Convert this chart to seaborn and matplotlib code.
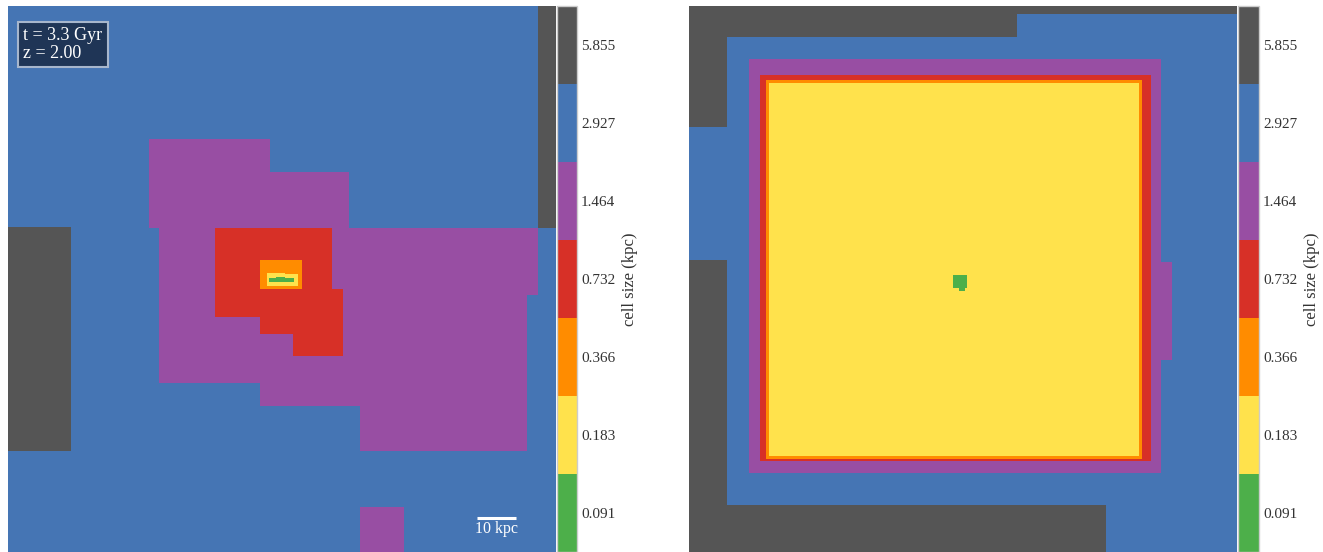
import numpy as np
import matplotlib
matplotlib.use('Agg')
import matplotlib.pyplot as plt
from matplotlib.colors import ListedColormap
import seaborn as sns

# refinement levels, finest (0) to coarsest (6)
cell_sizes = ['0.091', '0.183', '0.366', '0.732', '1.464', '2.927', '5.855']
level_colors = ['#4daf4a', '#ffe24c', '#ff8c00', '#d73027', '#984ea3', '#4575b4', '#555555']

# projected box, kpc, sampled on a fine grid
box_kpc = 140.0
n_x, n_y = 548, 546

# refined regions: (level, x0, x1, y0, y1) in kpc from the top-left corner
left_background = 5
left_boxes = [
    (6, 0.0, 16.1, 56.5, 113.7),
    (6, 135.4, 140.0, 0.0, 56.7),
    (4, 36.0, 66.9, 34.0, 56.7),
    (4, 36.0, 87.1, 42.4, 56.7),
    (4, 38.6, 135.4, 56.7, 73.8),
    (4, 38.6, 132.6, 73.8, 96.3),
    (4, 64.4, 132.6, 96.3, 102.2),
    (4, 89.9, 132.6, 102.2, 113.7),
    (4, 89.9, 101.2, 128.0, 140.0),
    (3, 52.9, 82.8, 56.7, 79.5),
    (3, 64.4, 85.6, 72.3, 83.8),
    (3, 72.8, 85.6, 83.8, 89.4),
    (2, 64.4, 75.1, 64.9, 72.3),
    (1, 66.2, 74.1, 68.5, 71.5),
    (1, 66.2, 70.8, 68.2, 68.5),
    (0, 66.7, 73.1, 69.5, 70.5),
    (0, 68.5, 70.8, 69.2, 69.5),
]

right_background = 5
right_boxes = [
    (6, 0.0, 83.8, 0.0, 7.9),
    (6, 83.8, 140.0, 0.0, 2.0),
    (6, 0.0, 9.7, 0.0, 30.9),
    (6, 0.0, 9.7, 64.9, 140.0),
    (6, 0.0, 106.5, 127.5, 140.0),
    (4, 15.3, 120.6, 13.5, 119.3),
    (4, 120.6, 123.4, 65.4, 90.4),
    (3, 18.1, 118.0, 17.6, 116.3),
    (2, 19.7, 115.7, 18.9, 115.7),
    (1, 20.4, 114.9, 19.7, 115.0),
    (0, 67.5, 71.0, 68.7, 72.0),
    (0, 69.0, 70.5, 72.0, 72.8),
]

time_label = 't = 3.3 Gyr\nz = 2.00'
scale_kpc = 10


def level_map(background, boxes):
    dx = box_kpc / n_x
    grid = np.full((n_y, n_x), background, dtype=float)
    for lev, x0, x1, y0, y1 in boxes:
        grid[int(round(y0 / dx)):int(round(y1 / dx)),
             int(round(x0 / dx)):int(round(x1 / dx))] = lev
    return grid


sns.set_style('white')
plt.rcParams['font.family'] = ['Liberation Serif', 'DejaVu Serif']

W, H = 1323, 552
fig = plt.figure(figsize=(W / 100, H / 100), dpi=100)
ax1 = fig.add_axes([8 / W, 0, 548 / W, 546 / H])
cax1 = fig.add_axes([557 / W, 0, 20 / W, 546 / H])
ax2 = fig.add_axes([689 / W, 0, 548 / W, 546 / H])
cax2 = fig.add_axes([1238 / W, 0, 21 / W, 546 / H])

cmap = ListedColormap(level_colors)

for ax, cax, bg, boxes in [(ax1, cax1, left_background, left_boxes),
                           (ax2, cax2, right_background, right_boxes)]:
    grid = level_map(bg, boxes)
    sns.heatmap(grid, ax=ax, cbar_ax=cax, cmap=cmap, vmin=-0.5, vmax=6.5,
                xticklabels=False, yticklabels=False, rasterized=True)
    for s in ax.spines.values():
        s.set_visible(False)
    cbar = ax.collections[0].colorbar
    cbar.set_ticks(range(len(cell_sizes)))
    cbar.set_ticklabels(cell_sizes)
    cbar.ax.tick_params(length=0, labelsize=11, colors='#333333', pad=3)
    cbar.set_label('cell size (kpc)', fontsize=12, color='#333333', labelpad=5)
    cbar.outline.set_edgecolor('#cccccc')
    cbar.outline.set_linewidth(1.0)

# time / redshift box
ax1.text(0.028, 0.961, time_label, transform=ax1.transAxes, ha='left', va='top',
         fontsize=13, color='white', linespacing=1.02,
         bbox=dict(boxstyle='square,pad=0.3', facecolor='#1f3556',
                   edgecolor='#a7b6cc', linewidth=1.5))

# scale bar
dx = box_kpc / n_x
x_start = 469
ax1.plot([x_start, x_start + scale_kpc / dx], [512, 512], color='white', lw=2.2,
         solid_capstyle='butt')
ax1.text(x_start + scale_kpc / dx / 2, 523, f'{scale_kpc} kpc', ha='center', va='center',
         color='white', fontsize=11.5)

fig.savefig('out.png', dpi=100)
